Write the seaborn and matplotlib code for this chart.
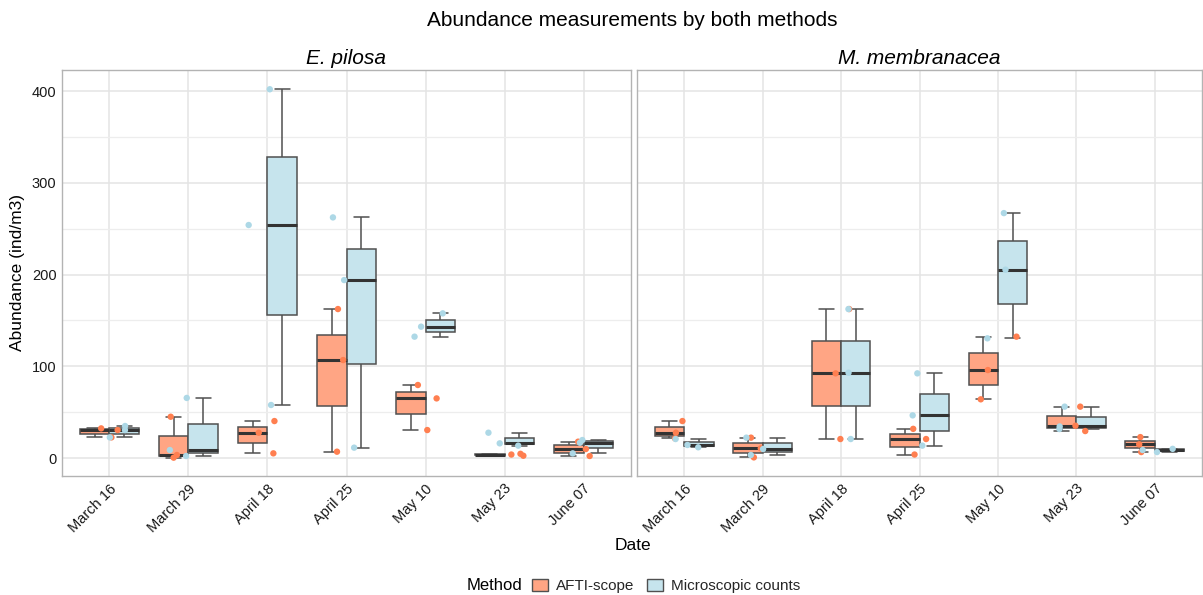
import numpy as np
import pandas as pd
import matplotlib
matplotlib.use("Agg")
import matplotlib.pyplot as plt
import seaborn as sns
from matplotlib.patches import Patch

# ---------------- data ----------------
dates = ["March 16", "March 29", "April 18", "April 25", "May 10", "May 23", "June 07"]
methods = ["AFTI-scope", "Microscopic counts"]
species = ["E. pilosa", "M. membranacea"]

# three replicate values per date (in order of `dates`)
epilosa_afti = [
    [22.5, 30.5, 32.3], [0.4, 3.3, 45.0], [5.1, 27.6, 40.3], [6.9, 106.8, 162.4],
    [30.5, 65.0, 79.6], [2.5, 3.8, 4.6], [2.2, 9.8, 17.8],
]
epilosa_micro = [
    [22.5, 30.5, 34.9], [2.2, 8.7, 65.5], [57.8, 254.0, 402.0], [11.3, 194.0, 262.3],
    [132.3, 143.2, 157.7], [13.5, 16.0, 27.6], [5.1, 16.7, 19.6],
]
mmem_afti = [
    [21.4, 27.6, 40.3], [0.7, 10.5, 22.2], [20.7, 92.3, 162.4], [3.8, 20.7, 31.8],
    [64.0, 95.9, 132.3], [29.4, 35.2, 56.0], [6.5, 14.9, 22.8],
]
mmem_micro = [
    [11.7, 14.2, 20.7], [3.3, 9.8, 22.2], [20.7, 93.0, 162.4], [13.5, 46.5, 92.3],
    [130.5, 205.3, 267.0], [31.6, 34.4, 56.0], [6.5, 8.7, 10.0],
]

series = {
    ("E. pilosa", "AFTI-scope"): epilosa_afti,
    ("E. pilosa", "Microscopic counts"): epilosa_micro,
    ("M. membranacea", "AFTI-scope"): mmem_afti,
    ("M. membranacea", "Microscopic counts"): mmem_micro,
}
rows = []
for (sp, m), vals in series.items():
    for d, reps in zip(dates, vals):
        for v in reps:
            rows.append({"Species": sp, "Method": m, "Date": d, "Abundance": v})
df = pd.DataFrame(rows)

# ---------------- style ----------------
sns.set_theme(style="white")
plt.rcParams["font.family"] = ["Liberation Sans", "DejaVu Sans"]

box_fill = {"AFTI-scope": "#FFA584", "Microscopic counts": "#C6E4ED"}
pt_col = {"AFTI-scope": "#FF7F50", "Microscopic counts": "#ADD8E6"}
edge = "#505050"

W, H = 1203, 595
fig = plt.figure(figsize=(W / 100, H / 100), dpi=100)
fig.patch.set_facecolor("white")

top, bot = 70, 476
panels = [(62, 631), (637, 1202)]
np.random.seed(3)

axes = []
for i, (sp, (x0, x1)) in enumerate(zip(species, panels)):
    ax = fig.add_axes([x0 / W, 1 - bot / H, (x1 - x0) / W, (bot - top) / H])
    sub = df[df["Species"] == sp]
    ax.set_axisbelow(True)
    sns.boxplot(
        data=sub, x="Date", y="Abundance", hue="Method", order=dates, hue_order=methods,
        palette=box_fill, width=0.75, gap=0, dodge=True, whis=(0, 100), fliersize=0,
        linewidth=1.1, linecolor=edge, saturation=1,
        medianprops={"linewidth": 2.2, "color": "#333333"},
        ax=ax, legend=False,
    )
    sns.stripplot(
        data=sub, x="Date", y="Abundance", hue="Method", order=dates, hue_order=methods,
        palette=pt_col, dodge=False, jitter=0.25, size=4.6, linewidth=0,
        ax=ax, legend=False, zorder=5,
    )
    ax.set_xlim(-0.6, 6.6)
    ax.set_ylim(-19.6, 423)
    ax.set_yticks([0, 100, 200, 300, 400])
    ax.set_yticks([50, 150, 250, 350], minor=True)
    ax.grid(True, which="major", color="#E4E4E4", linewidth=1.1)
    ax.grid(True, which="minor", axis="y", color="#EDEDED", linewidth=0.9)
    ax.tick_params(axis="both", which="both", length=0, labelsize=10.5, colors="#1a1a1a", pad=4)
    ax.set_xticks(range(len(dates)))
    ax.set_xticklabels(dates, rotation=45, ha="right", va="top", rotation_mode="anchor")
    for s in ax.spines.values():
        s.set_color("#B3B3B3")
        s.set_linewidth(1.0)
        s.set_visible(True)
    ax.set_xlabel("")
    ax.set_ylabel("")
    if i == 1:
        ax.set_yticklabels([])
    ax.set_title(sp, fontsize=15, style="italic", color="black", pad=4)
    axes.append(ax)

fig.text(0.5 * (62 + 1202) / W, 1 - 20 / H, "Abundance measurements by both methods",
         ha="center", va="center", fontsize=15, color="black")
fig.text(633 / W, 1 - 546 / H, "Date", ha="center", va="center", fontsize=12.5, color="black")
fig.text(18 / W, 1 - 273 / H, "Abundance (ind/m3)", ha="center", va="center",
         rotation=90, fontsize=12.5, color="black")

# legend
fig.text(495 / W, 1 - 586 / H, "Method", ha="center", va="center", fontsize=12, color="black")
handles = [Patch(facecolor=box_fill[m], edgecolor=edge, linewidth=1.0, label=m) for m in methods]
fig.legend(handles=handles, loc="center", bbox_to_anchor=(666 / W, 1 - 586 / H), ncol=2,
           frameon=False, fontsize=11, handlelength=1.1, handleheight=0.9,
           handletextpad=0.5, columnspacing=0.8, borderpad=0)

fig.savefig("out.png", dpi=100, facecolor="white")
